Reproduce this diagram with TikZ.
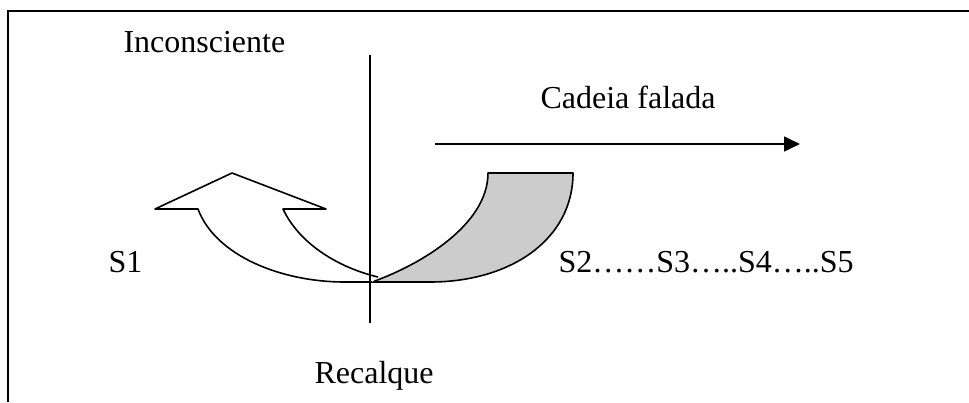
\documentclass[tikz,border=0pt]{standalone}
\usepackage{fontspec}
\setmainfont{Liberation Serif}
\usepackage{tikz}
\usetikzlibrary{
    arrows.meta,
    positioning
}
\definecolor{ShadeGray}{RGB}{204,204,204}

\begin{document}
\begin{tikzpicture}[
    x=0.375pt, y=-0.375pt,
    >={Triangle[length=6pt,width=5.6pt]},
    font=\fontsize{12pt}{14pt}\selectfont,
    label/.style={anchor=base west, inner sep=0pt},
    band/.style={line width=0.6pt, line join=round}
]

\useasboundingbox (0,0) rectangle (969,402);

% frame (only top and left edges show)
\draw[line width=0.8pt] (8,402) -- (8,11) -- (969,11);

\coordinate (A) at (488,173);
\coordinate (B) at (573,173);
\coordinate (Bot) at (372,282);
\coordinate (Tip) at (232,173);

% back of the band, shaded
\draw[band, fill=ShadeGray]
    (A) -- (B)
    .. controls (573,240) and (510,282) .. (430,282)
    -- (Bot)
    .. controls (420,265) and (488,225) .. (A) -- cycle;

% front of the band with the arrowhead
\draw[band, fill=white]
    (Bot) -- (345,282)
    .. controls (280,282) and (215,255) .. (198,209)
    -- (155,209) -- (Tip) -- (326,209) -- (283,209)
    .. controls (300,245) and (340,268) .. (378,277);

% vertical bar
\coordinate (BarTop) at (370,55);
\coordinate (BarBot) at (370,323);
\draw[line width=0.6pt] (BarTop) -- (BarBot);

% spoken chain
\coordinate (ChainL) at (435,144);
\coordinate (ChainR) at (800,144);
\draw[->, line width=0.7pt] (ChainL) -- (ChainR);

\node[label] (incons) at (123,52) {Inconsciente};
\node[label] (cadeia) at (540,108) {Cadeia falada};
\node[label] (s1) at (108,272) {S1};
\node[label] (chain) at (558,272) {S2……S3…..S4…..S5};
\node[label] (recalque) at (314,383) {Recalque};

\end{tikzpicture}
\end{document}
